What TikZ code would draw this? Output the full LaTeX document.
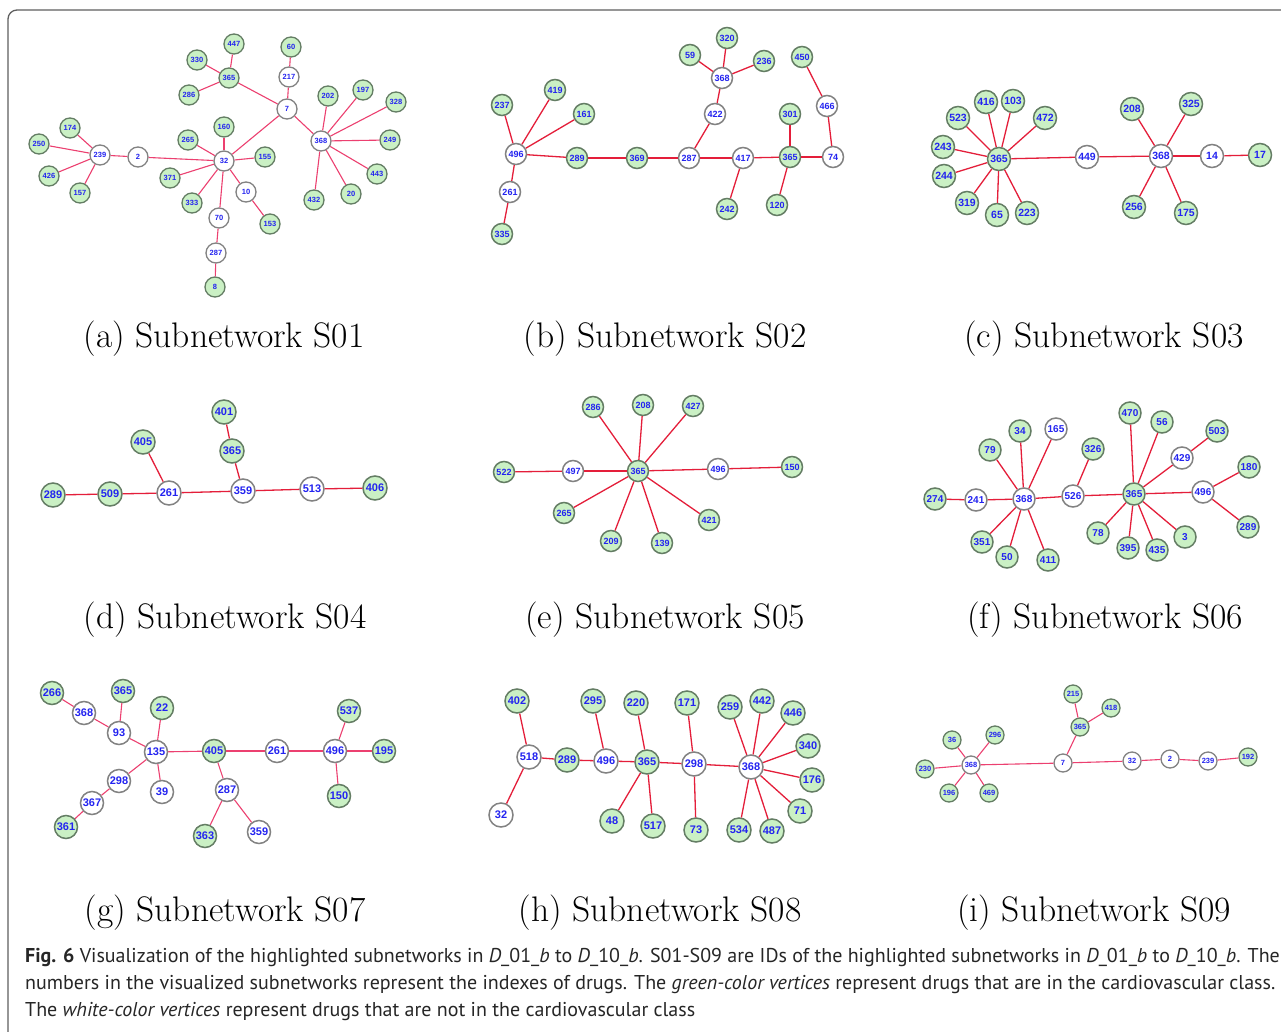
\documentclass[tikz,border=0pt]{standalone}
\usepackage{fontspec}
\newfontfamily\vfont{Liberation Sans}
\newfontfamily\capfont{PT Sans}
\definecolor{vgreen}{RGB}{202,240,196}
\definecolor{vgreenb}{RGB}{100,125,100}
\definecolor{vgrayb}{RGB}{130,130,130}
\definecolor{vblue}{RGB}{35,35,240}
\definecolor{edgeP}{RGB}{236,64,112}
\definecolor{edgeR}{RGB}{228,30,58}
\definecolor{framec}{RGB}{95,95,95}
\newcommand{\gv}[4]{\node[gn] (#1#2) at (#3,#4) {#2};}
\newcommand{\wv}[4]{\node[wn] (#1#2) at (#3,#4) {#2};}
\tikzset{
  vtx/.style={circle, inner sep=0pt, line width=1.5pt, text=vblue},
  gn/.style={vtx, fill=vgreen, draw=vgreenb},
  wn/.style={vtx, fill=white, draw=vgrayb},
  edgeA/.style={draw=edgeP, line width=1.1pt},
  edgeB/.style={draw=edgeR, line width=1.3pt},
  subcap/.style={inner sep=0pt, font=\fontsize{35.5}{40}\selectfont},
  capline/.style={anchor=base west, inner sep=0pt, font=\capfont\fontsize{20}{24}\selectfont, text=black!85}
}
\begin{document}
\begin{tikzpicture}[x=1pt,y=-1pt]
\useasboundingbox (0,0) rectangle (1281,1032);
\fill[white] (0,0) rectangle (1281,1032);
\draw[framec, line width=1.3pt, rounded corners=9pt] (8,1100) -- (8,10) -- (1320,10);

% ---------- S01 ----------
\begin{scope}[vtx/.append style={minimum size=20pt, line width=1.3pt, font=\vfont\bfseries\fontsize{7.5}{8}\selectfont}]
\gv{a}{447}{234}{44} \gv{a}{330}{197}{60} \gv{a}{365}{229}{78} \gv{a}{286}{189}{95}
\gv{a}{60}{291}{47} \wv{a}{217}{289}{77} \wv{a}{7}{287}{109}
\gv{a}{202}{328}{96} \gv{a}{197}{363}{90} \gv{a}{328}{396}{102} \wv{a}{368}{321}{141}
\gv{a}{249}{390}{140} \gv{a}{443}{377}{174} \gv{a}{20}{351}{194} \gv{a}{432}{314}{200}
\gv{a}{174}{70}{128} \gv{a}{250}{39}{144} \wv{a}{239}{100}{155} \wv{a}{2}{138}{157}
\gv{a}{426}{49}{176} \gv{a}{157}{80}{193}
\gv{a}{160}{224}{127} \gv{a}{265}{188}{140} \wv{a}{32}{224}{161} \gv{a}{155}{265}{157}
\gv{a}{371}{170}{178} \wv{a}{10}{246}{192} \gv{a}{333}{192}{203} \wv{a}{70}{219}{218}
\gv{a}{153}{270}{224} \wv{a}{287}{216}{253} \gv{a}{8}{215}{287}
\end{scope}
\foreach \u/\v in {239/174,239/250,239/426,239/157,239/2,2/32,32/160,32/265,32/155,32/371,32/333,32/70,32/10,10/153,70/287,287/8,32/7,7/217,217/60,7/365,365/447,365/330,365/286,7/368,368/202,368/197,368/328,368/249,368/443,368/20,368/432}
  \draw[edgeA] (a\u) -- (a\v);

% ---------- S02 ----------
\begin{scope}[vtx/.append style={minimum size=21pt, font=\vfont\bfseries\fontsize{9}{9}\selectfont}]
\gv{b}{320}{727}{38} \gv{b}{59}{690}{55} \gv{b}{236}{764}{61} \wv{b}{368}{722}{78}
\gv{b}{450}{802}{57} \wv{b}{466}{827}{106} \wv{b}{422}{715}{114} \gv{b}{301}{790}{114}
\gv{b}{237}{502}{105} \gv{b}{419}{555}{90} \gv{b}{161}{584}{114} \wv{b}{496}{516}{154}
\gv{b}{289}{577}{158} \gv{b}{369}{637}{158} \wv{b}{287}{689}{158} \wv{b}{417}{743}{158}
\gv{b}{365}{790}{157} \wv{b}{74}{833}{157} \wv{b}{261}{510}{192} \gv{b}{242}{727}{209}
\gv{b}{120}{777}{205} \gv{b}{335}{502}{234}
\end{scope}
\foreach \u/\v in {496/237,496/419,496/161,496/289,496/261,261/335,289/369,369/287,287/422,422/368,368/59,368/320,368/236,287/417,417/242,417/365,365/301,365/120,365/74,74/466,466/450}
  \draw[edgeB] (b\u) -- (b\v);

% ---------- S03 ----------
\begin{scope}[vtx/.append style={minimum size=23pt, font=\vfont\bfseries\fontsize{10.5}{11}\selectfont}]
\gv{c}{416}{986}{102} \gv{c}{103}{1013}{101} \gv{c}{523}{958}{118} \gv{c}{472}{1045}{118}
\gv{c}{243}{943}{147} \gv{c}{365}{999}{159} \gv{c}{244}{944}{176} \gv{c}{319}{967}{203}
\gv{c}{65}{997}{215} \gv{c}{223}{1027}{213} \wv{c}{449}{1087}{157} \gv{c}{208}{1132}{109}
\gv{c}{325}{1191}{104} \wv{c}{368}{1161}{156} \wv{c}{14}{1212}{156} \gv{c}{17}{1260}{155}
\gv{c}{256}{1134}{207} \gv{c}{175}{1186}{213}
\end{scope}
\foreach \u/\v in {365/416,365/103,365/523,365/472,365/243,365/244,365/319,365/65,365/223,365/449,449/368,368/208,368/325,368/256,368/175,368/14,14/17}
  \draw[edgeB] (c\u) -- (c\v);

% ---------- S04 ----------
\begin{scope}[vtx/.append style={minimum size=24pt, font=\vfont\bfseries\fontsize{11}{11}\selectfont}]
\gv{d}{401}{224}{412} \gv{d}{405}{143}{442} \gv{d}{365}{232}{451} \gv{d}{289}{53}{495}
\gv{d}{509}{110}{494} \wv{d}{261}{169}{493} \wv{d}{359}{243}{491} \wv{d}{513}{312}{489}
\gv{d}{406}{375}{488}
\end{scope}
\foreach \u/\v in {289/509,509/261,261/405,261/359,359/365,365/401,359/513,513/406}
  \draw[edgeB] (d\u) -- (d\v);

% ---------- S05 ----------
\begin{scope}[vtx/.append style={minimum size=21pt, font=\vfont\bfseries\fontsize{9}{9}\selectfont}]
\gv{e}{286}{593}{407} \gv{e}{208}{643}{405} \gv{e}{427}{693}{406} \gv{e}{522}{504}{472}
\wv{e}{497}{573}{471} \gv{e}{365}{638}{471} \wv{e}{496}{718}{469} \gv{e}{150}{792}{467}
\gv{e}{265}{564}{513} \gv{e}{421}{709}{520} \gv{e}{209}{611}{541} \gv{e}{139}{662}{543}
\end{scope}
\foreach \u/\v in {365/286,365/208,365/427,365/497,365/496,365/265,365/209,365/139,365/421,497/522,496/150}
  \draw[edgeB] (e\u) -- (e\v);

% ---------- S06 ----------
\begin{scope}[vtx/.append style={minimum size=22pt, font=\vfont\bfseries\fontsize{10}{10}\selectfont}]
\gv{f}{470}{1130}{413} \gv{f}{56}{1162}{422} \gv{f}{34}{1020}{431} \wv{f}{165}{1056}{429}
\gv{f}{503}{1217}{431} \gv{f}{326}{1093}{449} \gv{f}{79}{990}{450} \wv{f}{429}{1182}{458}
\gv{f}{180}{1249}{467} \gv{f}{274}{935}{499} \wv{f}{241}{976}{500} \wv{f}{368}{1024}{499}
\wv{f}{526}{1073}{496} \gv{f}{365}{1134}{494} \wv{f}{496}{1203}{492} \gv{f}{289}{1248}{527}
\gv{f}{78}{1098}{533} \gv{f}{3}{1185}{537} \gv{f}{351}{982}{542} \gv{f}{395}{1128}{548}
\gv{f}{435}{1157}{550} \gv{f}{50}{1007}{557} \gv{f}{411}{1048}{560}
\end{scope}
\foreach \u/\v in {274/241,241/368,368/79,368/34,368/165,368/351,368/50,368/411,368/526,526/326,526/365,365/470,365/56,365/429,429/503,365/496,496/180,496/289,365/78,365/395,365/435,365/3}
  \draw[edgeB] (f\u) -- (f\v);

% ---------- S07 ----------
\begin{scope}[vtx/.append style={minimum size=23pt, font=\vfont\bfseries\fontsize{11}{11}\selectfont}]
\gv{g}{266}{52}{693} \gv{g}{365}{123}{691} \wv{g}{368}{84}{713} \gv{g}{22}{162}{708}
\wv{g}{93}{119}{733} \wv{g}{135}{156}{752} \gv{g}{405}{214}{751} \wv{g}{261}{277}{751}
\wv{g}{496}{335}{751} \gv{g}{537}{349}{711} \gv{g}{195}{384}{751} \gv{g}{150}{339}{796}
\wv{g}{298}{119}{781} \wv{g}{39}{162}{792} \wv{g}{287}{227}{790} \wv{g}{367}{92}{803}
\gv{g}{361}{66}{827} \gv{g}{363}{205}{836} \wv{g}{359}{259}{832}
\end{scope}
\foreach \u/\v in {266/368,368/93,93/365,93/135,135/22,135/405,135/298,135/39,298/367,367/361,405/261,405/287,287/363,287/359,261/496,496/537,496/195,496/150}
  \draw[edgeA] (g\u) -- (g\v);

% ---------- S08 ----------
\begin{scope}[vtx/.append style={minimum size=24pt, font=\vfont\bfseries\fontsize{11}{11}\selectfont}]
\gv{h}{402}{517}{701} \gv{h}{295}{593}{701} \gv{h}{220}{636}{703} \gv{h}{171}{687}{703}
\gv{h}{259}{730}{707} \gv{h}{442}{762}{701} \gv{h}{446}{793}{713} \gv{h}{340}{808}{746}
\wv{h}{518}{529}{757} \gv{h}{289}{567}{760} \wv{h}{496}{606}{761} \gv{h}{365}{647}{762}
\wv{h}{298}{694}{764} \wv{h}{368}{751}{767} \gv{h}{176}{812}{780} \gv{h}{71}{800}{811}
\wv{h}{32}{501}{815} \gv{h}{48}{612}{821} \gv{h}{517}{653}{826} \gv{h}{73}{696}{830}
\gv{h}{534}{739}{830} \gv{h}{487}{772}{831}
\end{scope}
\foreach \u/\v in {518/402,518/32,518/289,289/496,496/295,496/365,365/220,365/48,365/517,365/298,298/171,298/73,298/368,368/259,368/442,368/446,368/340,368/176,368/71,368/487,368/534}
  \draw[edgeB] (h\u) -- (h\v);

% ---------- S09 ----------
\begin{scope}[vtx/.append style={minimum size=18pt, line width=1.3pt, font=\vfont\bfseries\fontsize{7.5}{8}\selectfont}]
\gv{i}{215}{1073}{694} \gv{i}{418}{1111}{708} \gv{i}{365}{1080}{727} \gv{i}{36}{952}{740}
\gv{i}{296}{995}{735} \gv{i}{230}{925}{769} \wv{i}{368}{971}{765} \wv{i}{7}{1063}{763}
\wv{i}{32}{1132}{761} \wv{i}{2}{1170}{759} \wv{i}{239}{1208}{761} \gv{i}{192}{1248}{757}
\gv{i}{196}{949}{793} \gv{i}{469}{989}{793}
\end{scope}
\foreach \u/\v in {368/36,368/296,368/230,368/196,368/469,368/7,7/365,365/215,365/418,7/32,32/2,2/239,239/192}
  \draw[edgeA] (i\u) -- (i\v);

% ---------- sub-captions ----------
\node[subcap] (capa) at (224,339) {(a) Subnetwork S01};
\node[subcap] (capb) at (665,339) {(b) Subnetwork S02};
\node[subcap] (capc) at (1104,339) {(c) Subnetwork S03};
\node[subcap] (capd) at (225,620) {(d) Subnetwork S04};
\node[subcap] (cape) at (665,620) {(e) Subnetwork S05};
\node[subcap] (capf) at (1105,620) {(f) Subnetwork S06};
\node[subcap] (capg) at (225,913) {(g) Subnetwork S07};
\node[subcap] (caph) at (660,913) {(h) Subnetwork S08};
\node[subcap] (capi) at (1094,913) {(i) Subnetwork S09};

% ---------- figure caption ----------
\node[capline] (cl1) at (25,962) {\textbf{Fig. 6} Visualization of the highlighted subnetworks in \textit{D}\_01\_\textit{b} to \textit{D}\_10\_\textit{b}. S01-S09 are IDs of the highlighted subnetworks in \textit{D}\_01\_\textit{b} to \textit{D}\_10\_\textit{b}. The};
\node[capline] (cl2) at (25,989) {numbers in the visualized subnetworks represent the indexes of drugs. The \textit{green-color vertices} represent drugs that are in the cardiovascular class.};
\node[capline] (cl3) at (25,1016) {The \textit{white-color vertices} represent drugs that are not in the cardiovascular class};
\end{tikzpicture}
\end{document}
